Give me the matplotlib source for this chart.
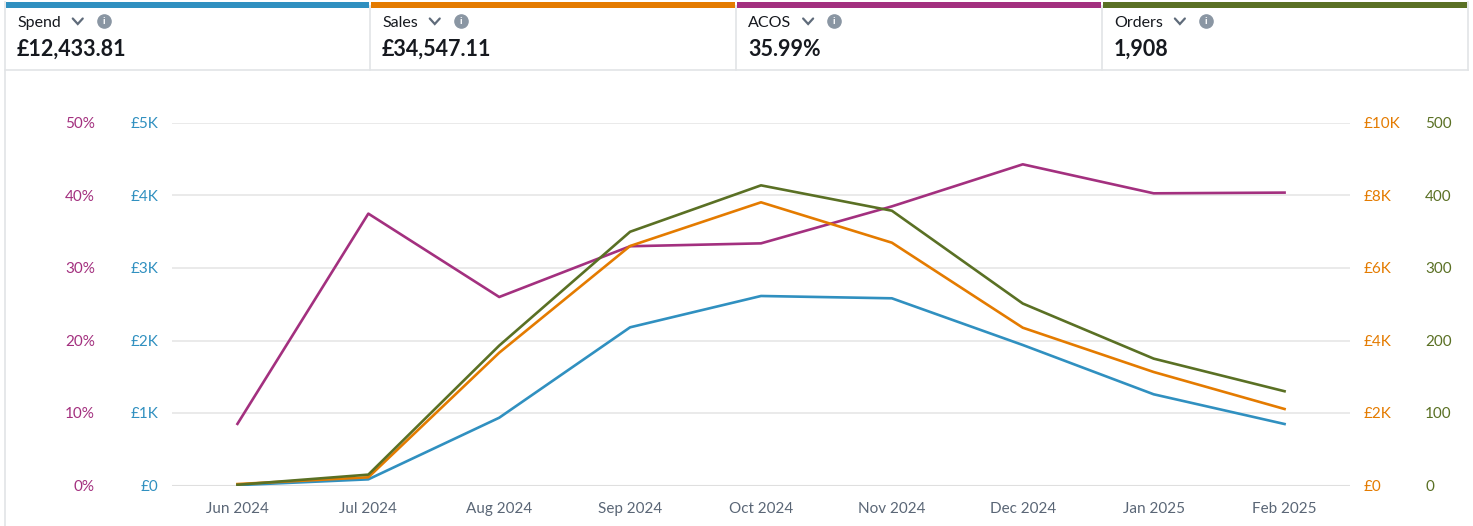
import matplotlib.pyplot as plt
from matplotlib.patches import Rectangle
from matplotlib.lines import Line2D
from matplotlib.ticker import FuncFormatter

plt.rcParams['font.family'] = ['Lato', 'DejaVu Sans']

# Monthly data
months = ['Jun 2024', 'Jul 2024', 'Aug 2024', 'Sep 2024', 'Oct 2024',
          'Nov 2024', 'Dec 2024', 'Jan 2025', 'Feb 2025']
spend = [5, 85, 935, 2182, 2614, 2582, 1938, 1258, 848]
sales = [40, 226, 3663, 6607, 7812, 6698, 4353, 3131, 2110]
acos = [8.5, 37.5, 26.0, 33.0, 33.4, 38.5, 44.3, 40.3, 40.4]
orders = [1, 15, 193, 350, 414, 379, 251, 175, 130]

# Header cards
card_titles = ['Spend', 'Sales', 'ACOS', 'Orders']
card_values = ['£12,433.81', '£34,547.11', '35.99%', '1,908']

c_spend = '#3090c0'
c_sales = '#e47b00'
c_acos = '#a3307f'
c_orders = '#5a7024'
card_colors = [c_spend, c_sales, c_acos, c_orders]

W, H = 1473, 526
fig = plt.figure(figsize=(W / 100, H / 100), dpi=100)


def fx(px):
    return px / W


def fy(py):
    return 1 - py / H


# ---- header cards ----
card_edges = [5, 370, 736, 1102, 1468]
border = '#e2e4e6'
fig.add_artist(Line2D([fx(5), fx(1468)], [fy(69.5), fy(69.5)], color=border, lw=1.2))
fig.add_artist(Line2D([fx(5), fx(5)], [fy(2), fy(526)], color=border, lw=1.2))
fig.add_artist(Line2D([fx(1468), fx(1468)], [fy(2), fy(69.5)], color=border, lw=1.2))
for xe in card_edges[1:-1]:
    fig.add_artist(Line2D([fx(xe), fx(xe)], [fy(6), fy(69.5)], color=border, lw=1.2))

fig.canvas.draw()
renderer = fig.canvas.get_renderer()
for i, (title, value, col) in enumerate(zip(card_titles, card_values, card_colors)):
    x0 = card_edges[i]
    x1 = card_edges[i + 1]
    fig.add_artist(Rectangle((fx(x0 + 0.5), fy(7.5)), fx(x1 - x0 - 1.5), 5.5 / H,
                             color=col, lw=0))
    t = fig.text(fx(x0 + 12), fy(23), title, fontsize=11.5, color='#16191f',
                 ha='left', va='center')
    fig.text(fx(x0 + 12), fy(49), value, fontsize=15.5, fontweight='bold',
             color='#16191f', ha='left', va='center')
    bb = t.get_window_extent(renderer)
    chev = bb.x1 + 17
    fig.add_artist(Line2D([fx(chev - 5), fx(chev), fx(chev + 5)],
                          [fy(18.5), fy(24), fy(18.5)], color='#5f6b7a', lw=1.6,
                          solid_capstyle='round', solid_joinstyle='miter'))
    info = chev + 26
    fig.add_artist(Line2D([fx(info)], [fy(21)], marker='o', markersize=9.5,
                          color='#8a96a3', lw=0))
    fig.text(fx(info), fy(21.5), 'i', fontsize=7.5, fontweight='bold', color='white',
             ha='center', va='center')

# ---- chart ----
ax = fig.add_axes([fx(172), fy(485.5), fx(1350) - fx(172), (485.5 - 123) / H])
ax_s = ax.twinx()
ax_r = ax.twinx()
ax_o = ax.twinx()

x = list(range(len(months)))
ax_s.plot(x, spend, color=c_spend, lw=1.9, zorder=3)
ax_r.plot(x, sales, color=c_sales, lw=1.9, zorder=3)
ax_o.plot(x, orders, color=c_orders, lw=1.9, zorder=3)
ax.plot(x, acos, color=c_acos, lw=1.9, zorder=3)

ax.set_xlim(-0.5, len(months) - 0.5)
ax.set_ylim(0, 50)
ax_s.set_ylim(0, 5000)
ax_r.set_ylim(0, 10000)
ax_o.set_ylim(0, 500)

ax.set_yticks(range(0, 51, 10))
ax_s.set_yticks(range(0, 5001, 1000))
ax_r.set_yticks(range(0, 10001, 2000))
ax_o.set_yticks(range(0, 501, 100))


def money(v, pos):
    return '£0' if v == 0 else f'£{int(v / 1000)}K'


ax.yaxis.set_major_formatter(FuncFormatter(lambda v, p: f'{int(v)}%'))
ax_s.yaxis.set_major_formatter(FuncFormatter(money))
ax_r.yaxis.set_major_formatter(FuncFormatter(money))

ax_s.yaxis.tick_left()
ax_r.yaxis.tick_right()
ax_o.yaxis.tick_right()

ax.tick_params(axis='y', length=0, pad=55.5, labelcolor=c_acos, labelsize=11)
ax_s.tick_params(axis='y', length=0, pad=10, labelcolor=c_spend, labelsize=11)
ax_r.tick_params(axis='y', length=0, pad=9.5, labelcolor=c_sales, labelsize=11)
ax_o.tick_params(axis='y', length=0, pad=54, labelcolor=c_orders, labelsize=11)
for a in (ax, ax_s, ax_r, ax_o):
    for lab in a.get_yticklabels():
        lab.set_y(lab.get_position()[1])
        lab.set_va('center_baseline')

ax.set_xticks(x)
ax.set_xticklabels(months)
ax.tick_params(axis='x', length=0, pad=12, labelcolor='#5a6676', labelsize=11)

for a in (ax, ax_s, ax_r, ax_o):
    for sp in a.spines.values():
        sp.set_visible(False)

ax.grid(axis='y', color='#e4e4e4', lw=1.1, zorder=0)
ax.axhline(0, color='#cfcfcf', lw=2.2, zorder=1)

fig.savefig('out.png', dpi=100)
